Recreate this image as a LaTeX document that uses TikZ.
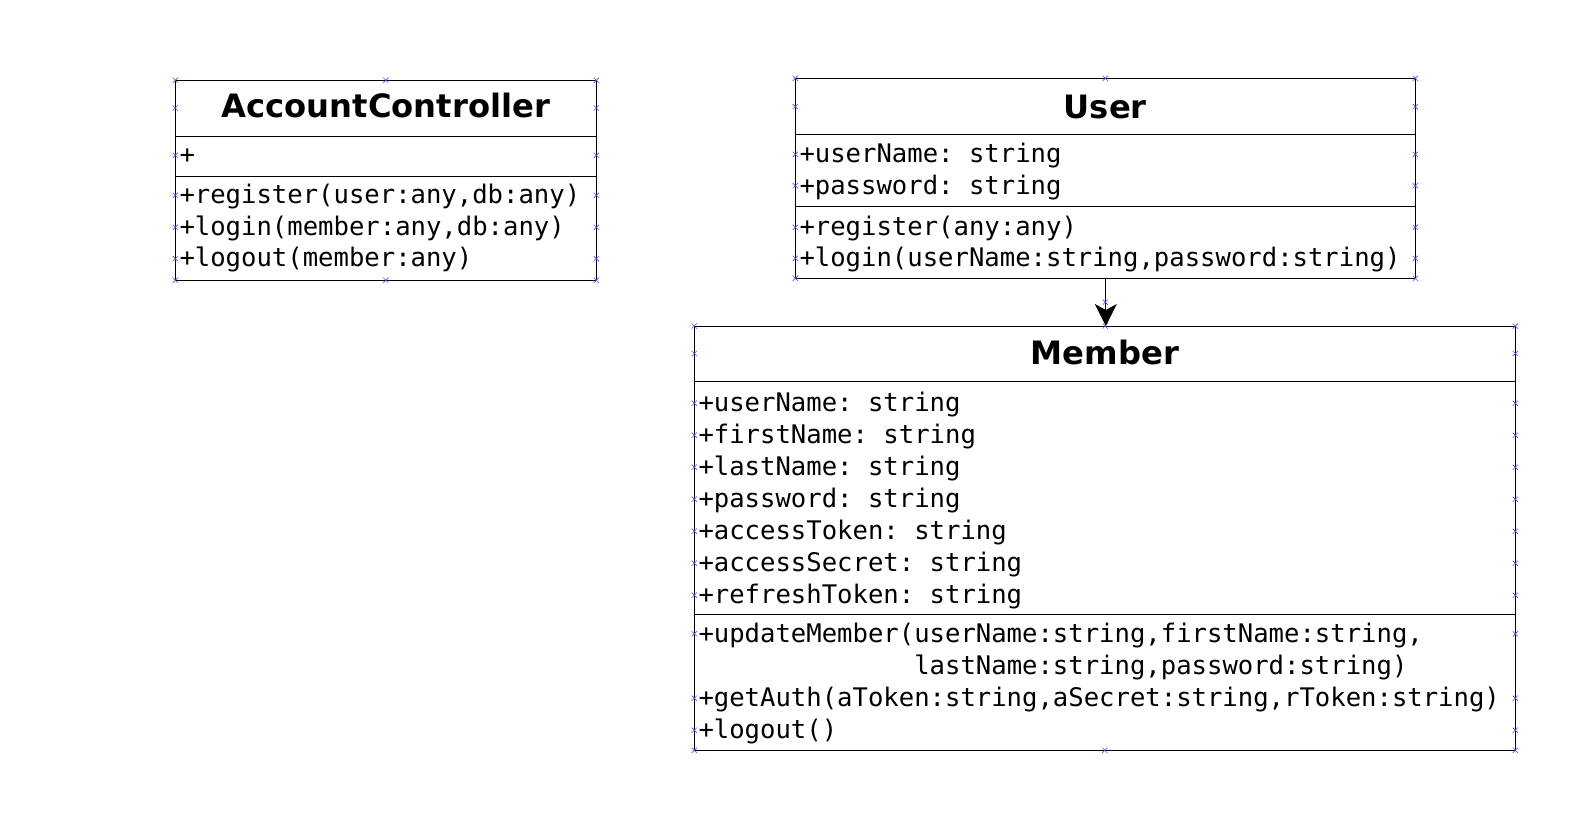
\documentclass[tikz,border=0pt]{standalone}
\usepackage{fontspec}
\setmainfont{DejaVu Sans}
\setmonofont{DejaVu Sans Mono}
\usetikzlibrary{arrows.meta}
\definecolor{markcol}{RGB}{80,80,235}
\tikzset{
  classbox/.style={draw=black, line width=1pt, inner sep=0pt, anchor=north west},
  sepline/.style={draw=black, line width=1pt},
  ctitle/.style={anchor=base, inner sep=0pt, font=\fontsize{32.2}{38}\selectfont\bfseries},
  cmember/.style={anchor=base west, inner sep=0pt, font=\fontsize{25.6}{32}\selectfont\ttfamily},
  xmark/.pic={\draw[markcol, line width=0.6pt] (-2.6,-2.6) -- (2.6,2.6) (-2.6,2.6) -- (2.6,-2.6);},
  assoc/.style={draw=black, line width=1pt, -{Stealth[length=22pt, width=22pt, inset=6pt]}}
}
\begin{document}
\begin{tikzpicture}[x=1pt, y=-1pt]
\useasboundingbox (0,0) rectangle (1592,823);

% ---------- AccountController ----------
\node[classbox, minimum width=421pt, minimum height=200pt] (ac) at (175.3,80.3) {};
\draw[sepline] (175.3,136) -- (596.3,136);
\draw[sepline] (175.3,176.3) -- (596.3,176.3);
\node[ctitle] (actitle) at (385.8,117.7) {AccountController};
\node[cmember] (aca1) at (179.3,163.3) {+};
\node[cmember] (acm1) at (179.3,203.3) {+register(user:any,db:any)};
\node[cmember] (acm2) at (179.3,235.3) {+login(member:any,db:any)};
\node[cmember] (acm3) at (179.3,266.7) {+logout(member:any)};
\foreach \yy in {80.3,108,155.3,195.3,227.3,258.7,280.3}{
  \pic at (175.3,\yy) {xmark};
  \pic at (596.3,\yy) {xmark};
}
\pic at (385.8,80.3) {xmark};
\pic at (385.8,280.3) {xmark};

% ---------- User ----------
\node[classbox, minimum width=620pt, minimum height=200pt] (user) at (795.3,78.3) {};
\draw[sepline] (795.3,134.3) -- (1415.3,134.3);
\draw[sepline] (795.3,206) -- (1415.3,206);
\node[ctitle] (usertitle) at (1105.3,118) {User};
\node[cmember] (ua1) at (799.3,162.7) {+userName: string};
\node[cmember] (ua2) at (799.3,194) {+password: string};
\node[cmember] (um1) at (799.3,235.3) {+register(any:any)};
\node[cmember] (um2) at (799.3,266.3) {+login(userName:string,password:string)};
\foreach \yy in {78.3,106.7,154.3,185.7,227.3,258.3,278.3}{
  \pic at (795.3,\yy) {xmark};
  \pic at (1415.3,\yy) {xmark};
}
\pic at (1105.3,78.3) {xmark};

% ---------- Member ----------
\node[classbox, minimum width=821pt, minimum height=424.3pt] (member) at (694.3,326) {};
\draw[sepline] (694.3,381.7) -- (1515.3,381.7);
\draw[sepline] (694.3,614.3) -- (1515.3,614.3);
\node[ctitle] (membertitle) at (1104.8,364.8) {Member};
\node[cmember] (ma1) at (698.3,411.7) {+userName: string};
\node[cmember] (ma2) at (698.3,443.7) {+firstName: string};
\node[cmember] (ma3) at (698.3,475.7) {+lastName: string};
\node[cmember] (ma4) at (698.3,507.7) {+password: string};
\node[cmember] (ma5) at (698.3,539.7) {+accessToken: string};
\node[cmember] (ma6) at (698.3,571.7) {+accessSecret: string};
\node[cmember] (ma7) at (698.3,603.7) {+refreshToken: string};
\node[cmember] (mm1) at (698.3,642.7) {+updateMember(userName:string,firstName:string,};
\node[cmember] (mm1b) at (698.3,674.7) {\phantom{+updateMember(}lastName:string,password:string)};
\node[cmember] (mm2) at (698.3,706.7) {+getAuth(aToken:string,aSecret:string,rToken:string)};
\node[cmember] (mm3) at (698.3,738.7) {+logout()};
\foreach \yy in {326,353.5,403.2,435.2,467.2,499.2,531.2,563.2,595.2,633.8,698.2,730.2,750.3}{
  \pic at (694.3,\yy) {xmark};
  \pic at (1515.3,\yy) {xmark};
}
\pic at (1104.8,750.3) {xmark};

% ---------- association ----------
\draw[assoc] (user.south) -- (user.south |- member.north);
\pic at (1105.3,302.2) {xmark};
\pic at (1105.3,326) {xmark};
\end{tikzpicture}
\end{document}
